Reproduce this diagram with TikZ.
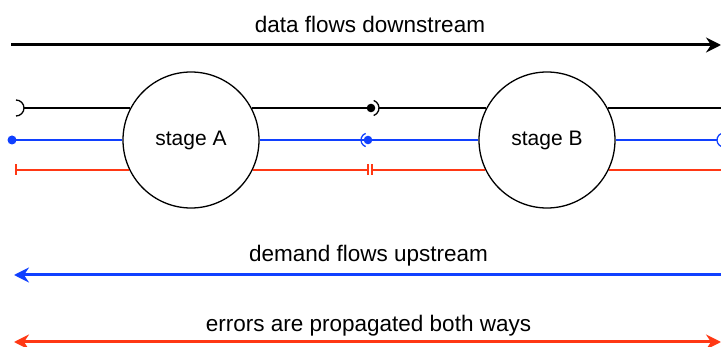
\documentclass[tikz,border=0pt]{standalone}
\usepackage{fontspec}
\setmainfont{Liberation Sans}
\usetikzlibrary{arrows.meta}
\definecolor{dblue}{RGB}{16,64,255}
\definecolor{dred}{RGB}{255,56,20}
\tikzset{
  stagenode/.style={circle,draw=black,line width=1.3pt,minimum size=136pt,inner sep=0pt,font=\fontsize{21}{24}\selectfont},
  lbl/.style={font=\fontsize{22.5}{26}\selectfont,inner sep=0pt,anchor=base},
  thinline/.style={line width=1.3pt},
  bigarrow/.style={line width=3pt}
}
\begin{document}
\begin{tikzpicture}[x=1pt,y=-1pt]
\useasboundingbox (0,0) rectangle (721,347);
% stages
\node[stagenode] (A) at (191,140) {stage A};
\node[stagenode] (B) at (547,140) {stage B};
% coordinates
\coordinate (ls) at (16,108);
\coordinate (lsx) at (24,108);
\coordinate (lb) at (12,140);
\coordinate (lr) at (16,170);
\coordinate (mb) at (371,108);
\coordinate (mbx) at (379,108);
\coordinate (mbl) at (368,140);
\coordinate (mr1) at (368,170);
\coordinate (mr2) at (372,170);
\coordinate (rk) at (721,108);
\coordinate (rb) at (724,140);
\coordinate (rbx) at (717,140);
\coordinate (rr) at (721,170);
% top arrow
\coordinate (t1) at (11,45);
\coordinate (t2) at (721,45);
\draw[bigarrow,-{Stealth[length=15pt,width=15pt,inset=5pt]}] (t1) -- (t2);
\node[lbl] (tl) at (370,33) {data flows downstream};
% black lines
\draw[thinline] (ls) ++(-90:8) arc[start angle=-90,end angle=90,radius=8];
\draw[thinline] (lsx) -- (lsx -| A.152);
\draw[thinline] (mb -| A.28) -- (mb);
\fill (mb) circle[radius=4.3];
\draw[thinline] (mb) ++(-70:8) arc[start angle=-70,end angle=70,radius=8];
\draw[thinline] (mbx) -- (mbx -| B.152);
\draw[thinline] (rk -| B.28) -- (rk);
% blue lines
\draw[thinline,dblue] (lb) -- (A.west);
\fill[dblue] (lb) circle[radius=4.5];
\draw[thinline,dblue] (A.east) -- (mbl);
\fill[dblue] (mbl) circle[radius=4.3];
\draw[thinline,dblue] (mbl) ++(110:7) arc[start angle=110,end angle=250,radius=7];
\draw[thinline,dblue] (mbl) -- (B.west);
\draw[thinline,dblue] (B.east) -- (rbx);
\draw[thinline,dblue] (rb) ++(110:7) arc[start angle=110,end angle=250,radius=7];
% red lines
\draw[thinline,dred] (lr) ++(0,-5.5) -- ++(0,11);
\draw[thinline,dred] (lr) -- (lr -| A.206);
\draw[thinline,dred] (mr1 -| A.334) -- (mr1);
\draw[thinline,dred] (mr1) ++(0,-5.5) -- ++(0,11);
\draw[thinline,dred] (mr2) ++(0,-5.5) -- ++(0,11);
\draw[thinline,dred] (mr2) -- (mr2 -| B.206);
\draw[thinline,dred] (rr -| B.334) -- (rr);
% demand arrow
\coordinate (d1) at (721,275);
\coordinate (d2) at (14,275);
\draw[bigarrow,dblue,-{Stealth[length=15pt,width=15pt,inset=5pt]}] (d1) -- (d2);
\node[lbl] (dl) at (368.5,262) {demand flows upstream};
% error arrow
\coordinate (e1) at (14,342);
\coordinate (e2) at (721,342);
\draw[bigarrow,dred,{Stealth[length=15pt,width=15pt,inset=5pt]}-{Stealth[length=15pt,width=15pt,inset=5pt]}] (e1) -- (e2);
\node[lbl] (el) at (368.5,332) {errors are propagated both ways};
\end{tikzpicture}
\end{document}
